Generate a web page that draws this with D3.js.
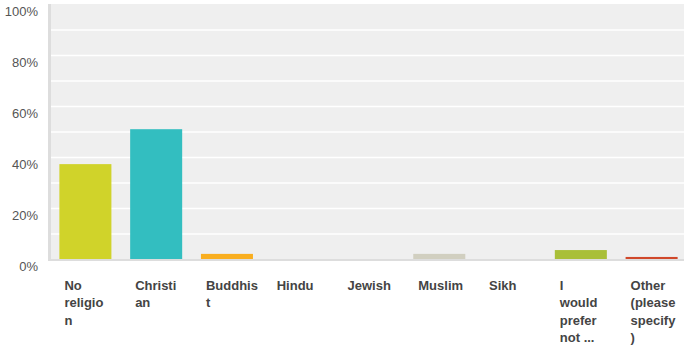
<!DOCTYPE html>
<html>
<head>
<meta charset="utf-8">
<script src="https://cdn.jsdelivr.net/npm/d3@7"></script>
<style>
  html, body { margin: 0; padding: 0; background: #fff; }
  svg { display: block; }
</style>
</head>
<body>
<svg id="chart" width="684" height="346"></svg>
<script>
const categories = ["No religion", "Christian", "Buddhist", "Hindu", "Jewish", "Muslim", "Sikh", "I would prefer not to say", "Other (please specify)"];
const labelLines = [["No", "religio", "n"], ["Christi", "an"], ["Buddhis", "t"], ["Hindu"], ["Jewish"], ["Muslim"], ["Sikh"], ["I", "would", "prefer", "not ..."], ["Other", "(please", "specify", ")"]];
const values = [37.4, 51.1, 2.2, 0, 0, 2.2, 0, 3.7, 1.0];
const colors = ["#d0d32a", "#33bec0", "#f9ae1f", "#ee7640", "#6c9cd4", "#d1cfc0", "#9b6cb3", "#a9bf38", "#d0482a"];
const yTicks = [0, 20, 40, 60, 80, 100];
const gridTicks = [10, 20, 30, 40, 50, 60, 70, 80, 90];

const svg = d3.select("#chart");
const x = d3.scaleBand().domain(categories).range([50, 687]).paddingInner(0.265).paddingOuter(0.1325);
const y = d3.scaleLinear().domain([0, 100]).range([259.5, 4.5]);

// plot background
svg.append("rect").attr("x", 51).attr("y", 4).attr("width", 684 - 51).attr("height", 259 - 4).attr("fill", "#efefef");

// gridlines
svg.append("g").selectAll("line").data(gridTicks).join("line")
  .attr("x1", 51).attr("x2", 684)
  .attr("y1", d => y(d)).attr("y2", d => y(d))
  .attr("stroke", "#ffffff").attr("stroke-width", 1.5);

// bars
svg.append("g").selectAll("rect").data(categories).join("rect")
  .attr("x", d => x(d))
  .attr("width", x.bandwidth())
  .attr("y", (d, i) => y(values[i]))
  .attr("height", (d, i) => Math.max(0, 259 - y(values[i])))
  .attr("fill", (d, i) => colors[i]);

// axes lines
svg.append("rect").attr("x", 48).attr("y", 4).attr("width", 3).attr("height", 257).attr("fill", "#dddddd");
svg.append("rect").attr("x", 48).attr("y", 259).attr("width", 684 - 48).attr("height", 2).attr("fill", "#dddddd");

// y tick labels
svg.append("g").selectAll("text").data(yTicks).join("text")
  .attr("x", 38).attr("y", d => y(d) + 11.5)
  .attr("text-anchor", "end")
  .attr("font-family", "'Liberation Sans', Arial, Helvetica, sans-serif")
  .attr("font-size", 13)
  .attr("fill", "#555555")
  .text(d => d + "%");

// x labels
const xl = svg.append("g").selectAll("text").data(categories).join("text")
  .attr("x", d => x(d) + 5)
  .attr("y", 289.5)
  .attr("font-family", "'Liberation Sans', Arial, Helvetica, sans-serif")
  .attr("font-size", 13)
  .attr("font-weight", "bold")
  .attr("fill", "#444444");
xl.selectAll("tspan").data((d, i) => labelLines[i]).join("tspan")
  .attr("x", function() { return d3.select(this.parentNode).attr("x"); })
  .attr("dy", (d, j) => j === 0 ? 0 : 17.6)
  .text(d => d);
</script>
</body>
</html>
